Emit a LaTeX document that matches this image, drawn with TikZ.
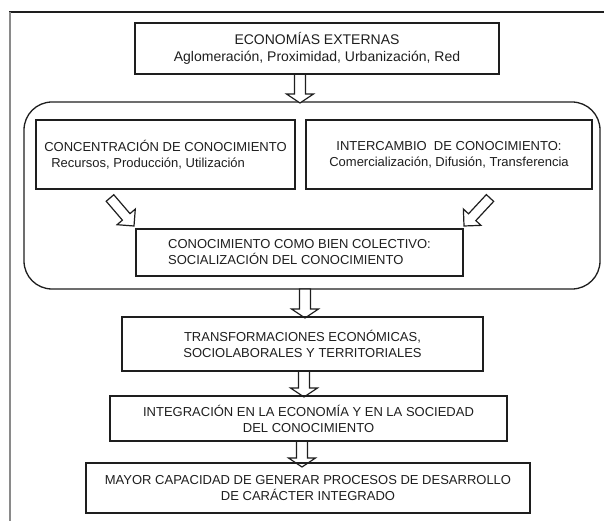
\documentclass[tikz,border=0pt]{standalone}
\usepackage{fontspec}
\setmainfont{Liberation Sans}
\usetikzlibrary{calc}
\definecolor{ink}{HTML}{1E1E1E}
\definecolor{framegray}{HTML}{8A8A8A}
\tikzset{
  shaftw/.store in=\bsw, headw/.store in=\bhw, headl/.store in=\bhl,
  shaftw=5.5pt, headw=13.5pt, headl=9pt,
  box/.style={draw=ink, line width=1.3pt, rectangle, inner sep=0pt, align=center, text=ink,
    font=\fontsize{13}{16}\selectfont},
  bigtext/.style={font=\fontsize{14}{17}\selectfont},
  group/.style={draw=ink, line width=1.3pt, rounded corners=28pt},
  barrow/.style={draw=ink, line width=1.2pt, fill=white, line join=miter,
    to path={
      let \p1=(\tikztostart), \p2=(\tikztotarget),
          \n1={veclen(\x2-\x1,\y2-\y1)}, \n2={atan2(\y2-\y1,\x2-\x1)} in
      {[shift={(\p1)}, rotate=\n2]
        (0pt,-\bsw) -- (\n1-\bhl,-\bsw) -- (\n1-\bhl,-\bhw) -- (\n1,0pt)
        -- (\n1-\bhl,\bhw) -- (\n1-\bhl,\bsw) -- (0pt,\bsw) -- cycle}
    }},
}
\begin{document}
\begin{tikzpicture}[x=1pt, y=-1pt]
\useasboundingbox (0,0) rectangle (604,521);
% frame
\draw[line width=1.5pt, ink] (9,12) -- (604,12);
\draw[line width=2.5pt, framegray] (10,12) -- (10,521);

% group container
\draw[group] (24,102) rectangle (600,289);

% coordinates for arrow positions
\coordinate (c1) at (300,0);
\coordinate (c2) at (305,0);
\coordinate (c3) at (304,0);
\coordinate (c4) at (302,0);
\coordinate (d1s) at (110,198);
\coordinate (d1e) at (134,226);
\coordinate (d2s) at (490,198);
\coordinate (d2e) at (464,226);

% arrows (drawn below boxes)
\draw[barrow] ($(0,74)+(c1)$) to ($(0,103)+(c1)$);
\draw[barrow] ($(0,289)+(c2)$) to ($(0,318)+(c2)$);
\draw[barrow] ($(0,371)+(c3)$) to ($(0,397)+(c3)$);
\draw[barrow] ($(0,441)+(c4)$) to ($(0,467)+(c4)$);
\begin{scope}[headw=12pt, headl=12pt, shaftw=5pt]
\draw[barrow] (d1s) to (d1e);
\draw[barrow] (d2s) to (d2e);
\end{scope}

% boxes
\node[box, bigtext, minimum width=364pt, minimum height=51pt] (top) at (317,48.5)
  {ECONOMÍAS EXTERNAS\\Aglomeración, Proximidad, Urbanización, Red};
\node[box, align=left, minimum width=259pt, minimum height=69pt] (conc) at (165.5,154.5)
  {CONCENTRACIÓN DE CONOCIMIENTO\\\hspace*{7pt}Recursos, Producción, Utilización};
\node[box, minimum width=286pt, minimum height=69pt] (inter) at (449,154.5)
  {INTERCAMBIO\ \ DE CONOCIMIENTO:\\Comercialización, Difusión, Transferencia};
\node[box, align=left, minimum width=327pt, minimum height=47pt] (bien) at (299.5,252.5)
  {CONOCIMIENTO COMO BIEN COLECTIVO:\\SOCIALIZACIÓN DEL CONOCIMIENTO};
\node[box, minimum width=361pt, minimum height=54pt] (trans) at (302.5,344)
  {TRANSFORMACIONES ECONÓMICAS,\\SOCIOLABORALES Y TERRITORIALES};
\node[box, minimum width=397pt, minimum height=45pt] (integ) at (308.5,418.5)
  {INTEGRACIÓN EN LA ECONOMÍA Y EN LA SOCIEDAD\\DEL CONOCIMIENTO};
\node[box, minimum width=444pt, minimum height=50pt] (mayor) at (308,488)
  {MAYOR CAPACIDAD DE GENERAR PROCESOS DE DESARROLLO\\DE CARÁCTER INTEGRADO};
\end{tikzpicture}
\end{document}
